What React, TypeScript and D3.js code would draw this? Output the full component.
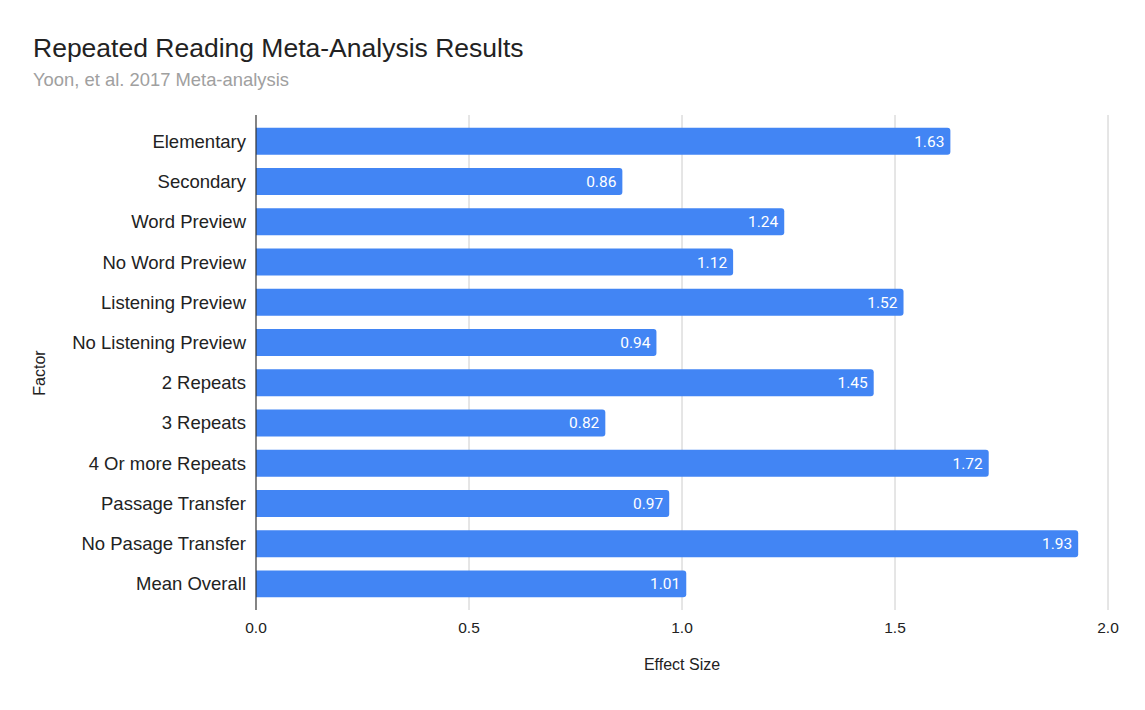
import React from "react";
import * as d3 from "d3";

const categories = [
  "Elementary",
  "Secondary",
  "Word Preview",
  "No Word Preview",
  "Listening Preview",
  "No Listening Preview",
  "2 Repeats",
  "3 Repeats",
  "4 Or more Repeats",
  "Passage Transfer",
  "No Pasage Transfer",
  "Mean Overall",
];
const values = [1.63, 0.86, 1.24, 1.12, 1.52, 0.94, 1.45, 0.82, 1.72, 0.97, 1.93, 1.01];
const xTicks = [0, 0.5, 1.0, 1.5, 2.0];
const title = "Repeated Reading Meta-Analysis Results";
const subtitle = "Yoon, et al. 2017 Meta-analysis";
const xTitle = "Effect Size";
const yTitle = "Factor";

const W = 1145;
const H = 710;
const left = 256;
const right = 1108;
const top = 121.2;
const bottom = 604;
const FONT = "Arial, 'Liberation Sans', sans-serif";

export default function App() {
  const x = d3.scaleLinear().domain([0, 2]).range([left, right]);
  const y = d3
    .scaleBand<string>()
    .domain(categories)
    .range([top, bottom])
    .paddingInner(0.33)
    .paddingOuter(0.165);
  const bw = y.bandwidth();
  const r = 3;
  const barPath = (v: number, y0: number) => {
    const x0 = x(0);
    const x1 = x(v);
    return `M${x0},${y0}H${x1 - r}Q${x1},${y0} ${x1},${y0 + r}V${y0 + bw - r}Q${x1},${y0 + bw} ${x1 - r},${y0 + bw}H${x0}Z`;
  };
  return (
    <svg
      width={W}
      height={H}
      style={{ position: "absolute", left: 0, top: 0, background: "#fff" }}
    >
      <text x={33} y={57} fontFamily={FONT} fontSize={26.5} fill="#222">
        {title}
      </text>
      <text x={33} y={86} fontFamily={FONT} fontSize={18.4} fill="#a0a0a0">
        {subtitle}
      </text>
      {xTicks.map((t) => (
        <g key={t}>
          {t !== 0 && (
            <line x1={x(t)} x2={x(t)} y1={115} y2={610} stroke="#cccccc" strokeWidth={1} />
          )}
          <text
            x={x(t)}
            y={633}
            textAnchor="middle"
            fontFamily={FONT}
            fontSize={15.5}
            fill="#222"
          >
            {t.toFixed(1)}
          </text>
        </g>
      ))}
      {categories.map((c, i) => {
        const y0 = y(c)!;
        return (
          <g key={c}>
            <path d={barPath(values[i], y0)} fill="#4285f4" />
            <text
              x={x(values[i]) - 6}
              y={y0 + bw / 2 + 5.5}
              textAnchor="end"
              fontFamily="Roboto, sans-serif"
              fontSize={15.5}
              fill="#ffffff"
            >
              {values[i].toFixed(2)}
            </text>
            <text
              x={246}
              y={y0 + bw / 2 + 6.5}
              textAnchor="end"
              fontFamily={FONT}
              fontSize={18.5}
              fill="#222"
            >
              {c}
            </text>
          </g>
        );
      })}
      <line x1={x(0)} x2={x(0)} y1={115} y2={610} stroke="#333" strokeWidth={1.2} />
      <text
        x={682}
        y={670}
        textAnchor="middle"
        fontFamily={FONT}
        fontSize={16}
        fill="#222"
      >
        {xTitle}
      </text>
      <text
        transform={`translate(45,373) rotate(-90)`}
        textAnchor="middle"
        fontFamily={FONT}
        fontSize={16}
        fill="#222"
      >
        {yTitle}
      </text>
    </svg>
  );
}
